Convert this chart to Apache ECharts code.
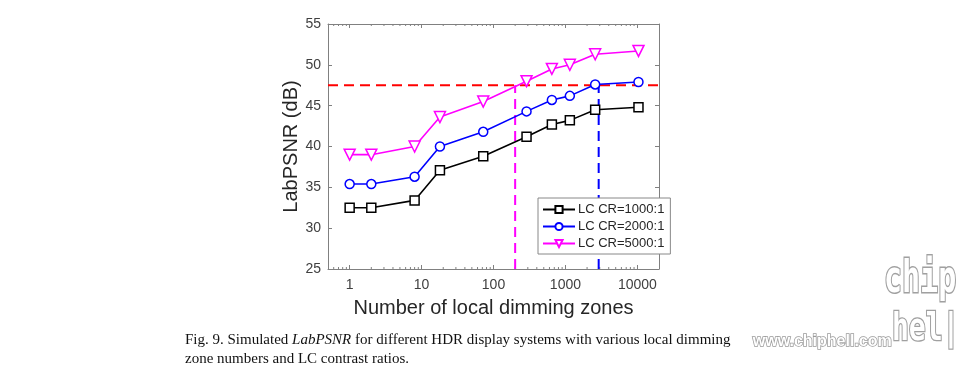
<!DOCTYPE html>
<html>
<head>
<meta charset="utf-8">
<script src="https://cdn.jsdelivr.net/npm/echarts@6/dist/echarts.min.js"></script>
<style>
  html, body { margin: 0; padding: 0; background: #fff; }
  #chart { width: 978px; height: 377px; }
</style>
</head>
<body>
<div id="chart"></div>
<script>
// local dimming zone counts (x, log scale)
const zones = [1, 2, 8, 18, 72, 288, 648, 1152, 2592, 10368]
const cr1000 = [32.5, 32.5, 33.4, 37.1, 38.8, 41.2, 42.7, 43.2, 44.5, 44.8]
const cr2000 = [35.4, 35.4, 36.3, 40.0, 41.8, 44.3, 45.7, 46.2, 47.6, 47.9]
const cr5000 = [39.0, 39.0, 40.0, 43.6, 45.5, 48.0, 49.5, 50.0, 51.3, 51.7]
const seriesNames = ['LC CR=1000:1', 'LC CR=2000:1', 'LC CR=5000:1']
const threshold = 47.5
const cutMagenta = 200
const cutBlue = 2900
const xRange = [0.5, 20000]
const yRange = [25, 55]
const decades = [0.1, 1, 10, 100, 1000, 10000]
const minorSteps = [2, 3, 4, 5, 6, 7, 8, 9]

const axisGrey = '#808080'
const labelColor = '#404040'
const font = '"Liberation Sans", Arial, sans-serif'
const serif = '"Liberation Serif", "Times New Roman", serif'

const pairs = (xs, ys) => xs.map((x, i) => [x, ys[i]])
// log-spaced minor ticks like matlab, inside the x range
const minorTicks = decades.flatMap(d => minorSteps.map(k => d * k))
  .filter(v => v > xRange[0] && v < xRange[1])

const curve = (name, vals, color, symbol) => ({
  name,
  type: 'line',
  data: pairs(zones, vals),
  symbol,
  symbolSize: symbol === 'triangle' ? 11 : 9,
  symbolRotate: symbol === 'triangle' ? 180 : 0,
  showAllSymbol: true,
  lineStyle: { color, width: 1.6 },
  itemStyle: { color: '#fff', borderColor: color, borderWidth: 1.5 },
  z: 5
})

const dashed = (data, color) => ({
  type: 'line',
  data,
  symbol: 'none',
  silent: true,
  lineStyle: { color, width: 2, type: [10, 6] },
  z: 3
})

const chart = echarts.init(document.getElementById('chart'))
chart.setOption({
  animation: false,
  textStyle: { fontFamily: font },
  grid: { left: 328, right: 319, top: 24, bottom: 108, show: false },
  xAxis: [{
    type: 'log',
    logBase: 10,
    min: xRange[0],
    max: xRange[1],
    name: 'Number of local dimming zones',
    nameLocation: 'middle',
    nameGap: 29,
    nameTextStyle: { fontSize: 20, color: '#262626', fontFamily: font },
    axisLine: { onZero: false, lineStyle: { color: axisGrey, width: 1 } },
    axisTick: { inside: true, length: 4, lineStyle: { color: axisGrey } },
    axisLabel: {
      color: labelColor, fontSize: 14, margin: 9, showMinLabel: false, showMaxLabel: false,
      formatter: v => String(Math.round(v))
    },
    splitLine: { show: false }
  }, {
    type: 'log',
    logBase: 10,
    position: 'top',
    min: xRange[0],
    max: xRange[1],
    axisLine: { onZero: false, lineStyle: { color: axisGrey, width: 1 } },
    axisTick: { inside: true, length: 4, lineStyle: { color: axisGrey } },
    axisLabel: { show: false },
    splitLine: { show: false }
  }],
  yAxis: [{
    type: 'value',
    min: yRange[0],
    max: yRange[1],
    interval: 5,
    name: 'LabPSNR (dB)',
    nameLocation: 'middle',
    nameGap: 26,
    nameTextStyle: { fontSize: 20, color: '#262626', fontFamily: font },
    axisLine: { show: true, onZero: false, lineStyle: { color: axisGrey, width: 1 } },
    axisTick: { show: true, inside: true, length: 4, lineStyle: { color: axisGrey } },
    axisLabel: { color: labelColor, fontSize: 14, margin: 7 },
    splitLine: { show: false }
  }, {
    type: 'value',
    position: 'right',
    min: yRange[0],
    max: yRange[1],
    interval: 5,
    axisLine: { show: true, onZero: false, lineStyle: { color: axisGrey, width: 1 } },
    axisTick: { show: true, inside: true, length: 4, lineStyle: { color: axisGrey } },
    axisLabel: { show: false },
    splitLine: { show: false }
  }],
  legend: {
    data: seriesNames,
    orient: 'vertical',
    left: 538,
    top: 198,
    width: 130,
    padding: [5, 6, 4, 4],
    itemGap: 4,
    itemWidth: 32,
    itemHeight: 9,
    backgroundColor: '#fff',
    borderColor: '#888',
    borderWidth: 1,
    borderRadius: 0,
    textStyle: { fontSize: 13, color: '#262626', fontFamily: font, padding: [0, 0, 0, -2] }
  },
  series: [
    {
      type: 'custom',
      silent: true,
      clip: false,
      data: minorTicks.map(v => [v]),
      renderItem: (params, api) => {
        const v = api.value(0)
        const b = api.coord([v, yRange[0]])
        const t = api.coord([v, yRange[1]])
        const style = { stroke: axisGrey, lineWidth: 1 }
        return {
          type: 'group',
          children: [
            { type: 'line', shape: { x1: b[0], y1: b[1], x2: b[0], y2: b[1] - 2 }, style },
            { type: 'line', shape: { x1: t[0], y1: t[1], x2: t[0], y2: t[1] + 2 }, style }
          ]
        }
      },
      z: 1
    },
    dashed([[xRange[0], threshold], [xRange[1], threshold]], '#ff0000'),
    dashed([[cutMagenta, yRange[0]], [cutMagenta, threshold]], '#ff00ff'),
    dashed([[cutBlue, yRange[0]], [cutBlue, threshold]], '#0000ff'),
    curve(seriesNames[0], cr1000, '#000000', 'rect'),
    curve(seriesNames[1], cr2000, '#0000ff', 'circle'),
    curve(seriesNames[2], cr5000, '#ff00ff', 'triangle')
  ],
  graphic: [
    {
      type: 'text', left: 185, top: 333,
      style: {
        rich: {
          n: { fontFamily: serif, fontSize: 15, fill: '#111' },
          i: { fontFamily: serif, fontSize: 15, fontStyle: 'italic', fill: '#111' }
        },
        text: '{n|Fig. 9. Simulated }{i|LabPSNR}{n| for different HDR display systems with various local dimming}'
      }
    },
    {
      type: 'text', left: 185, top: 352,
      style: { text: 'zone numbers and LC contrast ratios.', fontFamily: serif, fontSize: 15, fill: '#111' }
    },
    {
      type: 'text', left: 752, top: 333,
      style: {
        text: 'www.chiphell.com',
        fontFamily: font, fontSize: 16, fontWeight: 'bold', fill: '#fff',
        stroke: '#9a9a9a', lineWidth: 1.5
      }
    },
    {
      type: 'text', x: 884, y: 258, scaleY: 1.5,
      style: {
        text: 'chip',
        fontFamily: '"DejaVu Sans Mono", monospace', fontSize: 30, fontWeight: 'bold', fill: '#fff',
        stroke: '#a0a0a0', lineWidth: 2
      }
    },
    {
      type: 'text', x: 892, y: 312, scaleY: 1.3,
      style: {
        text: 'hel|',
        fontFamily: '"DejaVu Sans Mono", monospace', fontSize: 28, fontWeight: 'bold', fill: '#fff',
        stroke: '#a0a0a0', lineWidth: 2
      }
    }
  ]
})
</script>
</body>
</html>
